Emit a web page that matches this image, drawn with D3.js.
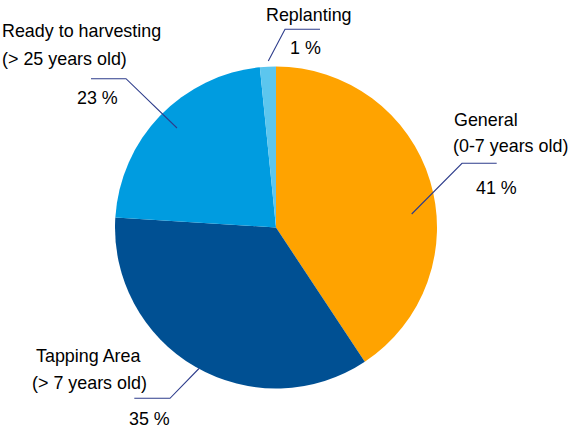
<!DOCTYPE html>
<html>
<head>
<meta charset="utf-8">
<script src="https://cdn.jsdelivr.net/npm/d3@7"></script>
<style>
  html, body { margin: 0; padding: 0; background: #fff; }
  svg { display: block; }
  text { font-family: "Liberation Sans", Arial, sans-serif; font-size: 17.9px; fill: #000; }
</style>
</head>
<body>
<svg id="chart" width="572" height="428"></svg>
<script>
// ---- data ----
const categories = ["General", "Tapping Area", "Ready to harvesting", "Replanting"];
const subtitles = ["(0-7 years old)", "(> 7 years old)", "(> 25 years old)", ""];
const shares = [40.7, 35.3, 22.4, 1.6];
const shareLabels = ["41 %", "35 %", "23 %", "1 %"];
const colors = ["#FFA300", "#005093", "#009CE0", "#5CC6EE"];

// ---- layout (label placement relative to pie centre) ----
const cx = 276, cy = 227.5, R = 161;
const layout = [
  { // General
    line: [[135.7, -13.5], [186, -64.2], [220.7, -64.2]],
    name: [178, -101.5], sub: [177, -75.5], pct: [200, -33.2]
  },
  { // Tapping
    line: [[-77, 141], [-106, 170.8], [-141.7, 170.8]],
    name: [-240, 134.8], sub: [-244, 161.8], pct: [-147, 197.5]
  },
  { // Ready
    line: [[-99, -99.5], [-150, -148.8], [-185, -148.8]],
    name: [-274, -190.2], sub: [-274, -163], pct: [-199, -123.5]
  },
  { // Replanting
    line: [[-7.7, -166.5], [9, -198.2], [44, -198.2]],
    name: [-10, -206.8], sub: null, pct: [14, -173.2]
  }
];

const svg = d3.select("#chart");
const g = svg.append("g").attr("transform", `translate(${cx},${cy})`);

const pie = d3.pie().sort(null).value(d => d)(shares);
const arc = d3.arc().innerRadius(0).outerRadius(R);

g.selectAll("path.slice")
  .data(pie)
  .join("path")
  .attr("class", "slice")
  .attr("d", arc)
  .attr("fill", (d, i) => colors[i]);

const line = d3.line();
g.selectAll("path.leader")
  .data(layout)
  .join("path")
  .attr("class", "leader")
  .attr("d", d => line(d.line))
  .attr("fill", "none")
  .attr("stroke", "#2E3D8C")
  .attr("stroke-width", 1.1);

layout.forEach((L, i) => {
  g.append("text").attr("x", L.name[0]).attr("y", L.name[1]).text(categories[i]);
  if (L.sub && subtitles[i]) {
    g.append("text").attr("x", L.sub[0]).attr("y", L.sub[1]).text(subtitles[i]);
  }
  g.append("text").attr("x", L.pct[0]).attr("y", L.pct[1]).text(shareLabels[i]);
});
</script>
</body>
</html>
